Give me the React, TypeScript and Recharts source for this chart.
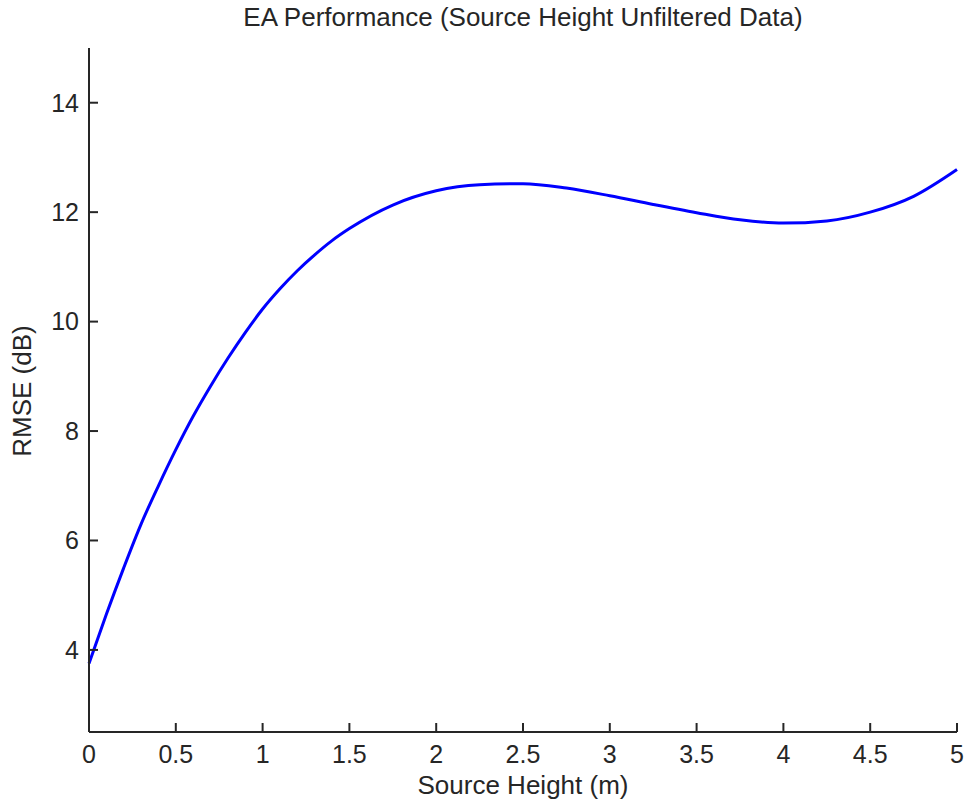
import React from 'react';
import { LineChart, Line, XAxis, YAxis } from 'recharts';

// Source height (m) and RMSE (dB)
const heights = [0, 0.1, 0.2, 0.3, 0.4, 0.5, 0.6, 0.7, 0.8, 0.9, 1.0, 1.1, 1.2, 1.3, 1.4, 1.5, 1.75, 2.0, 2.25, 2.5, 2.75, 3.0, 3.25, 3.5, 3.75, 4.0, 4.25, 4.5, 4.75, 5.0];
const rmse = [3.75, 4.65, 5.5, 6.3, 7.0, 7.66, 8.27, 8.82, 9.33, 9.8, 10.23, 10.6, 10.93, 11.22, 11.48, 11.7, 12.13, 12.39, 12.5, 12.52, 12.44, 12.3, 12.14, 11.99, 11.86, 11.8, 11.84, 12.0, 12.29, 12.78];

const xTicks = [0, 0.5, 1, 1.5, 2, 2.5, 3, 3.5, 4, 4.5, 5];
const yTicks = [4, 6, 8, 10, 12, 14];

const data = heights.map((h, i) => ({ h, rmse: rmse[i] }));

const FONT = 'Arial, "Liberation Sans", Helvetica, sans-serif';
const INK = '#262626';

export default function App() {
  const tickStyle = { fontSize: 25, fill: INK, fontFamily: FONT };
  return (
    <div style={{ position: 'absolute', left: 0, top: 0, width: 964, height: 803, background: '#fff', fontFamily: FONT }}>
      <LineChart width={964} height={803} data={data} margin={{ top: 48, right: 7, left: 0, bottom: 0 }}>
        <XAxis
          dataKey="h"
          type="number"
          domain={[0, 5]}
          ticks={xTicks}
          height={71}
          stroke={INK}
          strokeWidth={2}
          tickSize={-9}
          tickMargin={22}
          tick={tickStyle}
          interval={0}
        />
        <YAxis
          type="number"
          domain={[2.5, 15]}
          ticks={yTicks}
          width={89}
          stroke={INK}
          strokeWidth={2}
          tickSize={-9}
          tickMargin={19}
          tick={tickStyle}
          interval={0}
        />
        <Line
          type="monotone"
          dataKey="rmse"
          stroke="#0000ff"
          strokeWidth={3}
          dot={false}
          isAnimationActive={false}
        />
      </LineChart>
      <div style={{ position: 'absolute', left: 89, width: 868, top: 2, textAlign: 'center', fontSize: 26, color: INK }}>
        EA Performance (Source Height Unfiltered Data)
      </div>
      <div style={{ position: 'absolute', left: 89, width: 868, top: 770, textAlign: 'center', fontSize: 26, color: INK }}>
        Source Height (m)
      </div>
      <div
        style={{
          position: 'absolute',
          left: 22,
          top: 391,
          transform: 'translate(-50%, -50%) rotate(-90deg)',
          whiteSpace: 'nowrap',
          fontSize: 26,
          color: INK,
        }}
      >
        RMSE (dB)
      </div>
    </div>
  );
}
